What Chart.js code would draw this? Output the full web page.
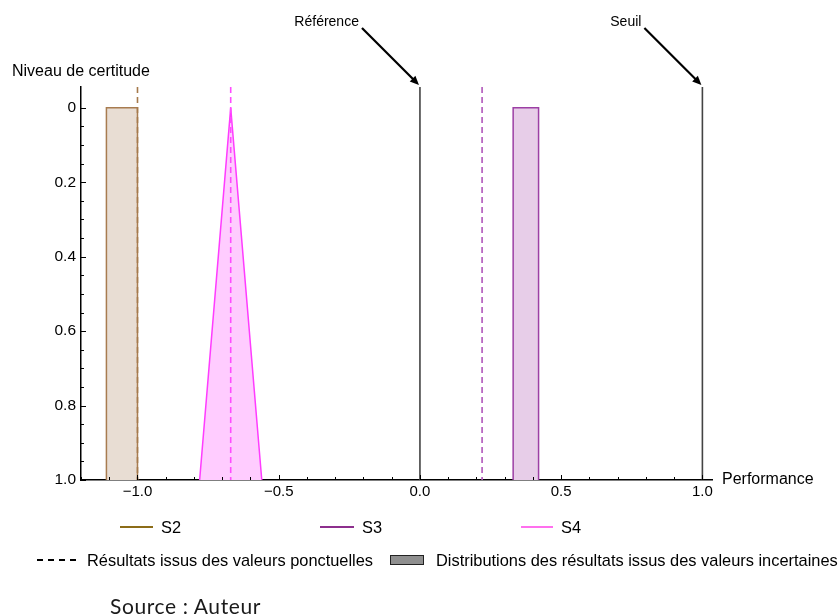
<!DOCTYPE html>
<html><head><meta charset="utf-8">
<script src="https://cdn.jsdelivr.net/npm/chart.js@4.4.1/dist/chart.umd.min.js"></script>
<style>
html,body{margin:0;padding:0;background:#fff;}
#wrap{position:relative;width:840px;height:614px;overflow:hidden;font-family:"Liberation Sans",Arial,sans-serif;background:#fff;}
#c{position:absolute;left:0;top:0;}
.t{position:absolute;white-space:nowrap;font-size:16.4px;color:#000;transform:translateY(-50%);line-height:1.15;}
.ln{position:absolute;height:2px;}
.dash{position:absolute;width:6px;height:1.5px;background:#000;}
.box{position:absolute;box-sizing:border-box;border:1.5px solid #222;background:#8f8f8f;}
.src{position:absolute;white-space:nowrap;font-family:Lato,"Open Sans",sans-serif;font-size:21px;letter-spacing:0.6px;color:#1a1a1a;transform:translateY(-50%);}
</style></head>
<body>
<div id="wrap">
<canvas id="c" width="840" height="614"></canvas>
<div class="ln" style="left:120px;top:526px;width:33px;background:#8c6c18"></div>
<div class="t" style="left:161px;top:527px">S2</div>
<div class="ln" style="left:320px;top:526px;width:34px;background:#8d2f8d"></div>
<div class="t" style="left:362px;top:527px">S3</div>
<div class="ln" style="left:521px;top:526px;width:32px;background:#ff70ee"></div>
<div class="t" style="left:561px;top:527px">S4</div>
<div class="dash" style="left:37px;top:559px"></div>
<div class="dash" style="left:48px;top:559px"></div>
<div class="dash" style="left:59px;top:559px"></div>
<div class="dash" style="left:70px;top:559px"></div>
<div class="t" style="left:87px;top:560px">Résultats issus des valeurs ponctuelles</div>
<div class="box" style="left:390px;top:555px;width:34px;height:10px"></div>
<div class="t" style="left:436px;top:560px">Distributions des résultats issus des valeurs incertaines</div>
<div class="src" style="left:110px;top:605px">Source : Auteur</div>
</div>
<script>
// ---- data ----
const scenarios = ['S2', 'S3', 'S4'];
const pointResults = [-1.0, 0.22, -0.67];      // dashed lines (valeurs ponctuelles)
const distLow = [-1.11, 0.33, -0.78];          // distribution lower bound
const distHigh = [-1.0, 0.42, -0.56];          // distribution upper bound
const distPeak = [null, null, -0.67];          // triangular mode (null = uniform)
const certaintyTicks = [0, 0.2, 0.4, 0.6, 0.8, 1.0];
const performanceTicks = [-1.0, -0.5, 0.0, 0.5, 1.0];
const markerNames = ['Référence', 'Seuil'];
const markerValues = [0.0, 1.0];

// ---- styles ----
const strokeColors = ['#a87c50', '#9c3fa4', '#ff3cff'];
const fillColors = ['#e8ddd3', '#e7cde8', '#ffccff'];
const dashColors = ['#a57a4c', '#b157ba', '#ff4dff'];
const X_MIN = -1.2, X_MAX = 1.034, Y_TOP = -0.056, Y_BOT = 1.0;
const FONT = '"Liberation Sans", Arial, sans-serif';

function shapePoints(i) {
  if (distPeak[i] === null) {
    return [{x: distLow[i], y: 1}, {x: distLow[i], y: 0}, {x: distHigh[i], y: 0}, {x: distHigh[i], y: 1}];
  }
  return [{x: distLow[i], y: 1}, {x: distPeak[i], y: 0}, {x: distHigh[i], y: 1}];
}

const datasets = [];
scenarios.forEach((s, i) => {
  datasets.push({
    label: s + ' distribution', data: shapePoints(i),
    borderColor: strokeColors[i], backgroundColor: fillColors[i], borderWidth: 1.5,
    fill: {value: 1}, pointRadius: 0, tension: 0, order: 3
  });
});
scenarios.forEach((s, i) => {
  datasets.push({
    label: s + ' ponctuel', data: [{x: pointResults[i], y: Y_TOP}, {x: pointResults[i], y: Y_BOT}],
    borderColor: dashColors[i], borderWidth: 1.6, borderDash: [6, 4],
    fill: false, pointRadius: 0, order: 1
  });
});
markerNames.forEach((m, i) => {
  datasets.push({
    label: m, data: [{x: markerValues[i], y: Y_TOP}, {x: markerValues[i], y: Y_BOT}],
    borderColor: '#444', borderWidth: 1.6, fill: false, pointRadius: 0, order: 2
  });
});

function fmtX(v) {
  if (Math.abs(v) < 1e-9) return '0.0';
  return (v < 0 ? '\u2212' : '') + Math.abs(v).toFixed(1);
}
function fmtY(v) {
  if (Math.abs(v) < 1e-9) return '0';
  return v.toFixed(1);
}

const deco = {
  id: 'deco',
  afterDraw(chart) {
    const ctx = chart.ctx, xs = chart.scales.x, ys = chart.scales.y;
    ctx.save();
    ctx.strokeStyle = '#000'; ctx.lineWidth = 1;
    for (let k = -12; k <= 10; k++) {
      const px = Math.round(xs.getPixelForValue(k / 10)) + 0.5;
      const len = (k % 5 === 0) ? 5 : 3;
      ctx.beginPath(); ctx.moveTo(px, ys.bottom); ctx.lineTo(px, ys.bottom - len); ctx.stroke();
    }
    for (let k = 0; k <= 20; k++) {
      const py = Math.round(ys.getPixelForValue(k / 20)) + 0.5;
      const len = (k % 4 === 0) ? 5 : 3;
      ctx.beginPath(); ctx.moveTo(xs.left, py); ctx.lineTo(xs.left + len, py); ctx.stroke();
    }
    ctx.fillStyle = '#000';
    ctx.textBaseline = 'middle'; ctx.textAlign = 'left';
    ctx.font = '16px ' + FONT;
    ctx.fillText('Niveau de certitude', 12, 72);
    ctx.fillText('Performance', xs.right + 10, ys.bottom);
    ctx.font = '14px ' + FONT;
    markerNames.forEach((name, i) => {
      const tx = xs.getPixelForValue(markerValues[i]) - 1;
      const ty = ys.top - 2;
      const sx = tx - 57, sy = ty - 57;
      const d = Math.SQRT1_2;
      ctx.strokeStyle = '#000'; ctx.lineWidth = 2.2;
      ctx.beginPath(); ctx.moveTo(sx, sy); ctx.lineTo(tx - 7 * d, ty - 7 * d); ctx.stroke();
      ctx.beginPath();
      ctx.moveTo(tx, ty);
      ctx.lineTo(tx - 9 * d + 4 * d, ty - 9 * d - 4 * d);
      ctx.lineTo(tx - 9 * d - 4 * d, ty - 9 * d + 4 * d);
      ctx.closePath(); ctx.fill();
      ctx.textAlign = 'right';
      ctx.fillText(name, sx - 3, sy - 6);
    });
    ctx.restore();
  }
};

new Chart(document.getElementById('c'), {
  type: 'line',
  data: {datasets},
  options: {
    responsive: false, animation: false,
    layout: {padding: {left: 0, right: 128, top: 87, bottom: 104}},
    plugins: {legend: {display: false}, tooltip: {enabled: false}},
    scales: {
      x: {
        type: 'linear', min: X_MIN, max: X_MAX,
        grid: {display: false, drawTicks: false},
        border: {display: true, color: '#000', width: 1.5},
        afterBuildTicks: s => { s.ticks = performanceTicks.map(v => ({value: v})); },
        afterFit: s => { s.height = 30; },
        ticks: {callback: v => fmtX(v), color: '#000', font: {family: FONT, size: 15}, padding: 3, maxRotation: 0, autoSkip: false}
      },
      y: {
        type: 'linear', min: Y_TOP, max: Y_BOT, reverse: true,
        grid: {display: false, drawTicks: false},
        border: {display: true, color: '#000', width: 1.5},
        afterBuildTicks: s => { s.ticks = certaintyTicks.map(v => ({value: v})); },
        afterFit: s => { s.width = 81; },
        ticks: {callback: v => fmtY(v), color: '#000', font: {family: FONT, size: 15.5}, padding: 5, autoSkip: false}
      }
    }
  },
  plugins: [deco]
});
</script>
</body></html>
